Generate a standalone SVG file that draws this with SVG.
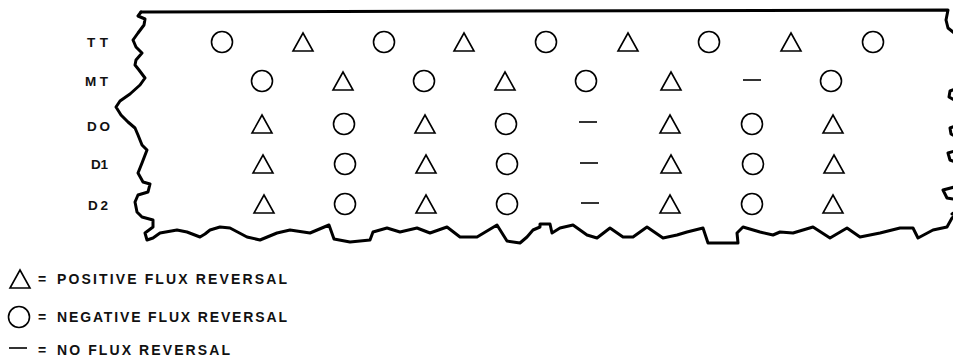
<svg xmlns="http://www.w3.org/2000/svg" width="953" height="362" viewBox="0 0 953 362">
<style>
.sym{fill:none;stroke:#000;stroke-width:1.6}
.edge{fill:none;stroke:#000;stroke-width:3;stroke-linejoin:round;stroke-linecap:round}
.lbl{font-family:"Liberation Sans",Arial,sans-serif;font-weight:bold;font-size:13.5px;fill:#111}
.leg{font-family:"Liberation Sans",Arial,sans-serif;font-weight:bold;font-size:14px;fill:#111}
</style>
<defs>
<circle id="c" r="10.5" class="sym"/>
<path id="t" d="M0,-9 L10,9 L-10,9 Z" class="sym" stroke-linejoin="miter"/>
<line id="d" x1="-9" y1="0" x2="9" y2="0" class="sym"/>
</defs>
<rect width="953" height="362" fill="#fff"/>
<g id="border">
<path class="edge" d="M141,12 L948,10 L946,20 L948,28 L958,36 L958,88 L950,91 L949,97 L958,102 L958,125 L950,128 L951,134 L958,138 L958,150 L948,153 L950,160 L958,163 L958,186 L943,190 L947,198 L958,200 L958,210 L952,214"/>
<path class="edge" d="M141,12 L138,16 L145,19 L144,25 L138,33 L133,40 L136,47 L142,53 L136,60 L135,65 L139,70 L145,78 L140,85 L130,94 L120,101 L116,107 L121,115 L128,122 L135,128 L138,135 L142,145 L147,150 L142,163 L138,173 L143,182 L150,184 L148,192 L138,195 L135,202 L137,212 L142,217 L153,220 L153,227 L145,233 L147,240 L153,238 L160,233 L177,230 L187,232 L200,237 L205,234 L210,230 L220,227 L230,228 L247,237 L260,240 L277,233 L290,230 L310,233 L329,225 L334,239 L350,242 L370,240 L373,232 L387,228 L400,232 L417,228 L430,233 L447,227 L460,237 L477,237 L497,225 L507,241 L520,243 L527,237 L533,230 L540,227 L540,224 L550,224 L552,233 L560,228 L573,225 L587,235 L597,238 L610,228 L623,237 L633,237 L647,227 L663,238 L677,235 L687,232 L703,228 L708,243 L738,243 L737,233 L743,227 L760,232 L773,235 L780,232 L793,233 L813,227 L830,238 L847,228 L860,237 L880,233 L900,228 L913,228 L918,238 L933,230 L947,227 L952,218 L958,212"/>
</g>
<g id="row-TT">
<text class="lbl" x="87" y="47" textLength="21">TT</text>
<use href="#c" x="222" y="42"/><use href="#t" x="303" y="42"/><use href="#c" x="384" y="42"/><use href="#t" x="464" y="42"/><use href="#c" x="546" y="42"/><use href="#t" x="628" y="42"/><use href="#c" x="709" y="42"/><use href="#t" x="791" y="42"/><use href="#c" x="873" y="42"/>
</g>
<g id="row-MT">
<text class="lbl" x="85" y="86" textLength="23">MT</text>
<use href="#c" x="262" y="81"/><use href="#t" x="343" y="81"/><use href="#c" x="424" y="81"/><use href="#t" x="505" y="81"/><use href="#c" x="586" y="81"/><use href="#t" x="671" y="81"/><use href="#d" x="752" y="80"/><use href="#c" x="831" y="81"/>
</g>
<g id="row-DO">
<text class="lbl" x="87" y="131" textLength="23">DO</text>
<use href="#t" x="262" y="124"/><use href="#c" x="344" y="124"/><use href="#t" x="425" y="124"/><use href="#c" x="506" y="124"/><use href="#d" x="588" y="122"/><use href="#t" x="670" y="124"/><use href="#c" x="752" y="124"/><use href="#t" x="833" y="124"/>
</g>
<g id="row-D1">
<text class="lbl" x="91" y="169" textLength="17">D1</text>
<use href="#t" x="263" y="164"/><use href="#c" x="345" y="164"/><use href="#t" x="426" y="164"/><use href="#c" x="507" y="164"/><use href="#d" x="589" y="163"/><use href="#t" x="671" y="164"/><use href="#c" x="753" y="164"/><use href="#t" x="834" y="164"/>
</g>
<g id="row-D2">
<text class="lbl" x="88" y="210" textLength="20">D2</text>
<use href="#t" x="264" y="204"/><use href="#c" x="345" y="204"/><use href="#t" x="426" y="204"/><use href="#c" x="507" y="204"/><use href="#d" x="590" y="203"/><use href="#t" x="670" y="204"/><use href="#c" x="752" y="204"/><use href="#t" x="833" y="204"/>
</g>
<g id="legend">
<use href="#t" x="20" y="279"/>
<text class="leg" x="38" y="284">=</text>
<text class="leg" x="57" y="284" textLength="230">POSITIVE FLUX REVERSAL</text>
<use href="#c" x="19" y="317"/>
<text class="leg" x="38" y="322">=</text>
<text class="leg" x="57" y="322" textLength="230">NEGATIVE FLUX REVERSAL</text>
<use href="#d" x="18" y="348"/>
<text class="leg" x="38" y="355">=</text>
<text class="leg" x="57" y="355" textLength="173">NO FLUX REVERSAL</text>
</g>
</svg>
